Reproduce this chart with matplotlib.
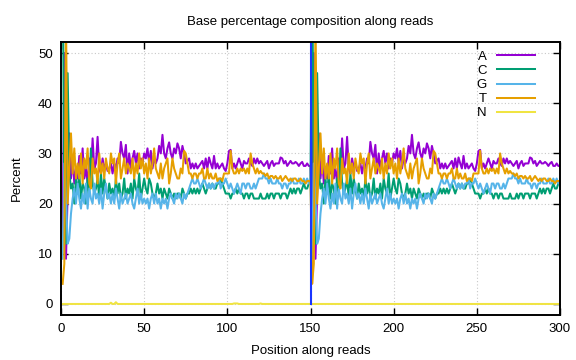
import numpy as np
import matplotlib
matplotlib.use('Agg')
import matplotlib.pyplot as plt

plt.rcParams['font.family'] = ['Liberation Sans', 'DejaVu Sans']
plt.rcParams['font.size'] = 9.5

### data (percent per cycle)
# the second read (cycles 151-300) shows the same profile as the first one

a_read = [13, 50, 9, 22, 34, 25, 29, 24, 27, 25,
          29.5, 26, 31, 25, 27, 24, 29, 26, 33, 27,
          28, 33.3, 27, 26, 29, 27, 28, 26.5, 27, 28,
          26, 28, 27, 29, 28, 32.3, 30, 29, 31.7, 26,
          30, 27, 29, 30.5, 28, 30, 27, 29, 28, 30,
          29, 31, 28, 30.5, 27, 29, 28, 29, 31.5, 30,
          33.7, 30, 29, 31, 32.2, 30, 29, 31, 30, 32,
          31, 29, 31.5, 30, 28, 28.5, 29, 27, 28, 27,
          28, 27, 27.5, 28, 28.5, 27, 29, 27, 29.2, 28,
          27, 29.5, 27, 28, 27, 27.5, 28, 27, 26.5, 28,
          30.5, 30.7, 27, 28, 27, 28, 29, 28, 27, 28.5,
          28, 28, 29, 28, 27.5, 29, 28, 29, 28, 28.5,
          28, 27.5, 28, 28.5, 27, 28, 28.5, 27.5, 28, 28,
          28, 29.2, 29, 28, 28.5, 27.5, 28, 28.5, 28, 28,
          28.3, 28, 27.5, 28, 28.3, 27.5, 27.5, 28, 27.5, 27.5]

c_read = [74, 14, 12, 46, 26, 23, 24, 20, 25, 22,
          26, 21, 24, 23, 20, 25, 22, 31, 24, 22,
          23, 25, 21, 26, 22, 25, 23, 21, 24, 22,
          23, 21, 25, 22, 24, 21, 22, 25, 21, 23,
          22, 24, 21, 25, 23, 22, 26, 21, 23, 25,
          23, 22, 25, 24, 22, 21, 22, 24, 22, 23,
          21, 23, 22, 21, 23, 22, 21, 22, 21, 22,
          22, 21, 23, 22, 21, 22, 22, 23, 22, 23,
          22, 23, 22, 23, 24, 23, 22, 23, 24, 23,
          24, 23, 23, 24, 24, 25, 24, 23, 22, 22,
          22, 21, 22, 22, 23, 22, 23, 22, 22, 21,
          22, 22, 21, 22, 22, 21, 21, 21, 21, 22,
          21, 21, 21, 22, 21, 22, 22, 21, 22, 22,
          22, 21, 22, 22, 22, 21, 22, 23, 22, 23,
          22, 23, 23, 22, 23, 24, 23, 23, 24, 24]

g_read = [9, 28, 21, 12, 13, 18, 21, 23, 20, 24,
          21, 19, 22, 20, 24, 19, 23, 21, 20, 24,
          21, 22, 20, 23, 19, 22, 24, 21, 22, 20,
          22, 20, 23, 21, 19, 22, 20, 21, 22, 20,
          21, 22, 20, 19, 21, 23, 20, 22, 20, 21,
          20, 21, 19, 21, 22, 20, 22, 20, 21, 19,
          21, 20, 21, 19, 21, 22, 21, 20, 22, 21,
          22, 21, 20, 22, 21, 22, 23, 24, 25, 24,
          24, 25, 24, 23, 24, 25, 24, 23, 24, 23,
          24, 23, 24, 24, 25, 23, 24, 24, 25, 24,
          23, 24, 23, 22, 23, 24, 23, 22, 24, 24,
          23, 24, 24, 23, 23, 24, 23, 24, 25, 25,
          25, 26, 25, 25, 24, 25, 24, 24, 24, 25,
          24, 24, 23, 24, 24, 23, 24, 24, 25, 24,
          24, 24, 25, 24, 24, 25, 24, 25, 24, 24]

t_read = [4, 8, 58, 20, 27, 34, 26, 31, 25, 28,
          25, 30, 24, 29, 27, 31, 24, 23, 29, 26,
          27, 24, 30, 26, 28, 25, 29, 27, 26, 30,
          28, 29, 24, 28, 30, 25, 27, 29, 26, 28,
          27, 26, 29, 25, 28, 26, 30, 27, 29, 26,
          28, 25, 29, 26, 28, 31, 27, 26, 25, 28,
          25, 27, 28, 29, 24, 26, 29, 27, 26, 25,
          25, 27, 26, 30.5, 30, 28, 26, 26, 25, 26,
          26, 25, 26, 26, 27, 25, 25, 27, 25, 26,
          25, 25, 26, 24.5, 25, 25, 24.5, 26, 26, 26,
          26, 30.5, 27, 26, 26, 27, 26, 27, 26.5, 27,
          26, 27, 26, 30, 28, 27, 26, 27, 26, 26.5,
          26, 26, 25.5, 26, 25, 25.5, 25.5, 25, 25.5, 25,
          25, 25.5, 24.5, 25, 25.5, 25, 24.5, 25, 24.5, 25,
          25, 24.5, 24.5, 25, 24.5, 24.5, 24, 24.5, 24.5, 24.5]

n_read1 = [0] * 29 + [0.25, 0, 0, 0.35] + [0] * 70 + [0.1, 0.1, 0.1] + [0] * 13 + [0.1] + [0] * 30
n_read2 = [0] * 150

boundary_x = [150, 150]
boundary_y = [0, 100]

cycles = np.arange(1, 301)
series = {
    'A': (a_read + a_read, '#9400d3'),
    'C': (c_read + c_read, '#009e73'),
    'G': (g_read + g_read, '#56b4e9'),
    'T': (t_read + t_read, '#e69f00'),
    'N': (n_read1 + n_read2, '#f0e442'),
}

fig = plt.figure(figsize=(5.76, 3.6), dpi=100)
ax = fig.add_axes([61 / 576, 1 - 315 / 360, 499 / 576, 273 / 360])

for name, (vals, col) in series.items():
    ax.plot(cycles, vals, color=col, lw=1.45, label=name)
ax.plot(boundary_x, boundary_y, color='#1a35ff', lw=1.5)

ax.set_xlim(0, 300)
ax.set_ylim(-2.2, 52.2)
ax.set_xticks(range(0, 301, 50))
ax.set_yticks(range(0, 51, 10))
ax.grid(True, color='#c8c8c8', linestyle=(0, (1, 2)), lw=0.8)
ax.tick_params(direction='in', length=5, top=True, right=True, width=1, pad=6)
for sp in ax.spines.values():
    sp.set_linewidth(1.4)

ax.set_title('Base percentage composition along reads', fontsize=9.5, pad=12)
ax.set_xlabel('Position along reads', labelpad=7)
ax.set_ylabel('Percent', labelpad=11)

leg = ax.legend(loc='upper right', bbox_to_anchor=(0.963, 0.992), frameon=False,
                markerfirst=False, handlelength=2.9, handletextpad=0.75,
                labelspacing=0.14, borderpad=0)

fig.savefig('out.png', dpi=100)
